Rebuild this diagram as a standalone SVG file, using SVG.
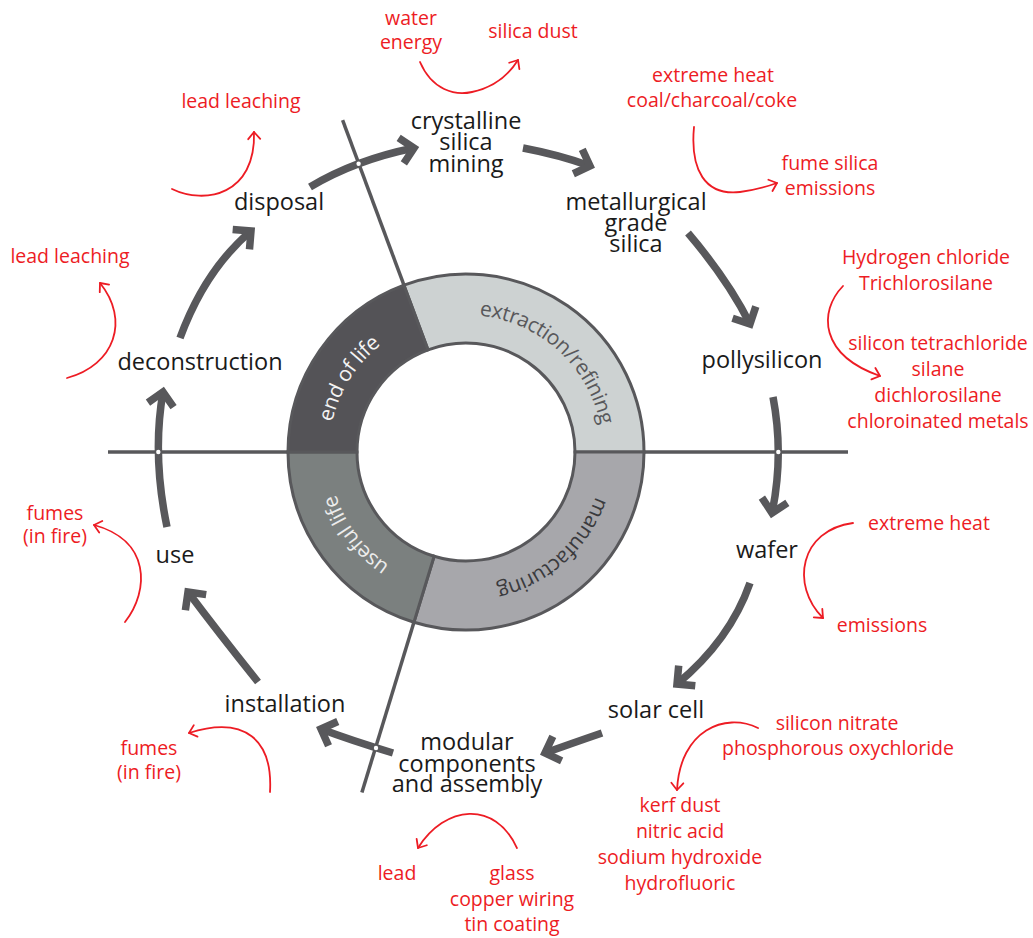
<svg xmlns="http://www.w3.org/2000/svg" xmlns:xlink="http://www.w3.org/1999/xlink" width="1033" height="938" viewBox="0 0 1033 938">
  <style>
    .stage { font-family: "Open Sans", "Liberation Sans", sans-serif; font-size: 23.5px; fill: #1a1a1a; text-anchor: middle; }
    .impact { font-family: "Open Sans", "Liberation Sans", sans-serif; font-size: 19.5px; fill: #ed1c24; text-anchor: middle; }
    .phase { font-family: "Open Sans", "Liberation Sans", sans-serif; font-size: 21px; letter-spacing: -0.4px; text-anchor: middle; }
    .divider { stroke: #58585b; stroke-width: 3.5; fill: none; }
    .ring { stroke: #58585b; stroke-width: 3; stroke-linejoin: miter; }
    .flow { stroke: #58585b; stroke-width: 7.5; fill: none; marker-end: url(#grayHead); }
    .effect { stroke: #ed1c24; stroke-width: 1.8; fill: none; stroke-linecap: round; marker-end: url(#redHead); }
    .gap { fill: #ffffff; }
  </style>
  <defs>
    <marker id="grayHead" markerUnits="userSpaceOnUse" viewBox="-20 -20 40 40" markerWidth="40" markerHeight="40" refX="0" refY="0" orient="auto" overflow="visible">
      <path d="M-13,-13 L0,0 L-13,13" fill="none" stroke="#58585b" stroke-width="7.5" stroke-linejoin="miter"/>
    </marker>
    <marker id="redHead" markerUnits="userSpaceOnUse" viewBox="-12 -12 24 24" markerWidth="24" markerHeight="24" refX="0" refY="0" orient="auto" overflow="visible">
      <path d="M-7,-6 L0,0 L-7,6" fill="none" stroke="#ed1c24" stroke-width="1.8" stroke-linecap="round" stroke-linejoin="round"/>
    </marker>
    <!-- baseline arcs for the phase labels, all running clockwise around (466,452) -->
    <path id="arcExtraction" d="M401.68,331.04 A137,137 0 0 1 593.02,503.32"/>
    <path id="arcManufacturing" d="M593.02,400.68 A137,137 0 0 1 401.68,572.96"/>
    <path id="arcUseful" d="M506.06,583.01 A137,137 0 0 1 351.10,377.39"/>
    <path id="arcEnd" d="M358.04,536.35 A137,137 0 0 1 494.48,318.00"/>
  </defs>

  <rect width="1033" height="938" fill="#ffffff"/>

  <!-- quadrant divider lines -->
  <g id="dividers">
    <line class="divider" x1="108" y1="452" x2="288" y2="452"/>
    <line class="divider" x1="644" y1="452" x2="848" y2="452"/>
    <line class="divider" x1="403.95" y1="285.16" x2="342.6" y2="120.2"/>
    <line class="divider" x1="413.95" y1="622.22" x2="361.9" y2="792.4"/>
  </g>

  <!-- phase ring -->
  <g id="ring">
    <g id="phase-extraction">
      <path class="ring" fill="#cdd2d2" d="M403.95,285.16 A178,178 0 0 1 644,452 L575,452 A109,109 0 0 0 428,349.83 Z"/>
      <text class="phase" fill="#58585b"><textPath xlink:href="#arcExtraction" startOffset="50%">extraction/refining</textPath></text>
    </g>
    <g id="phase-manufacturing">
      <path class="ring" fill="#a7a7ab" d="M644,452 A178,178 0 0 1 413.95,622.22 L434.13,556.24 A109,109 0 0 0 575,452 Z"/>
      <text class="phase" fill="#3a3a3d"><textPath xlink:href="#arcManufacturing" startOffset="50%">manufacturing</textPath></text>
    </g>
    <g id="phase-useful-life">
      <path class="ring" fill="#7b807f" d="M413.95,622.22 A178,178 0 0 1 288,452 L357,452 A109,109 0 0 0 434.13,556.24 Z"/>
      <text class="phase" fill="#ececec"><textPath xlink:href="#arcUseful" startOffset="50%">useful life</textPath></text>
    </g>
    <g id="phase-end-of-life">
      <path class="ring" fill="#545357" d="M288,452 A178,178 0 0 1 403.95,285.16 L428,349.83 A109,109 0 0 0 357,452 Z"/>
      <text class="phase" fill="#f4f4f4"><textPath xlink:href="#arcEnd" startOffset="50%">end of life</textPath></text>
    </g>
  </g>

  <!-- lifecycle flow arrows -->
  <g id="connectors">
    <path class="flow" d="M310,187 Q355,160 414,148"/>
    <path class="flow" d="M523,148 Q560,155 590,166"/>
    <path class="flow" d="M688,233 Q728,280 750,324"/>
    <path class="flow" d="M773,397 Q784,455 772,513"/>
    <path class="flow" d="M750,583 Q730,640 677,684"/>
    <path class="flow" d="M602,733 Q570,744 545,753"/>
    <path class="flow" d="M393,753 Q350,740 321,729"/>
    <path class="flow" d="M258,682 Q218,632 188,592"/>
    <path class="flow" d="M167,527 Q152,455 163,392"/>
    <path class="flow" d="M180,338 Q205,270 251,231"/>
    <!-- small white breaks where arrows cross the divider lines -->
    <circle class="gap" cx="358.6" cy="163.8" r="2.2"/>
    <circle class="gap" cx="778.3" cy="452" r="2.2"/>
    <circle class="gap" cx="158.3" cy="452" r="2.2"/>
    <circle class="gap" cx="376" cy="748" r="2.2"/>

    <!-- environmental side-effect arrows -->
    <path class="effect" d="M420,62 C432,90 455,96 472,92 C492,88 508,76 518,60"/>
    <path class="effect" d="M694,127 C690,170 705,196 740,192 C755,190 766,187 777,183"/>
    <path class="effect" d="M172,189 C205,205 256,195 254,132"/>
    <path class="effect" d="M67,378 C115,365 130,320 100,283"/>
    <path class="effect" d="M843,286 C818,312 820,355 880,376"/>
    <path class="effect" d="M853,523 C800,530 790,585 823,618"/>
    <path class="effect" d="M758,728 C725,712 680,730 677,790"/>
    <path class="effect" d="M517,848 C495,800 445,805 418,848"/>
    <path class="effect" d="M270,792 C273,740 245,715 189,733"/>
    <path class="effect" d="M125,622 C150,590 150,540 94,525"/>
  </g>

  <!-- lifecycle stages -->
  <g id="node-mining"><text class="stage" x="466" y="129">crystalline</text><text class="stage" x="466" y="150">silica</text><text class="stage" x="466" y="172">mining</text></g>
  <g id="node-metallurgical"><text class="stage" x="636" y="210">metallurgical</text><text class="stage" x="636" y="231">grade</text><text class="stage" x="636" y="252">silica</text></g>
  <g id="node-polysilicon"><text class="stage" x="762" y="368">pollysilicon</text></g>
  <g id="node-wafer"><text class="stage" x="767" y="558">wafer</text></g>
  <g id="node-solar-cell"><text class="stage" x="656" y="718">solar cell</text></g>
  <g id="node-modular"><text class="stage" x="467" y="750">modular</text><text class="stage" x="467" y="772">components</text><text class="stage" x="467" y="792">and assembly</text></g>
  <g id="node-installation"><text class="stage" x="285" y="712">installation</text></g>
  <g id="node-use"><text class="stage" x="175" y="563">use</text></g>
  <g id="node-deconstruction"><text class="stage" x="200" y="370">deconstruction</text></g>
  <g id="node-disposal"><text class="stage" x="279" y="210">disposal</text></g>

  <!-- inputs and emissions -->
  <g id="impact-mining-in"><text class="impact" x="411" y="25">water</text><text class="impact" x="411" y="49">energy</text></g>
  <g id="impact-mining-out"><text class="impact" x="533" y="38">silica dust</text></g>
  <g id="impact-smelting-in"><text class="impact" x="713" y="82">extreme heat</text><text class="impact" x="712" y="107">coal/charcoal/coke</text></g>
  <g id="impact-smelting-out"><text class="impact" x="830" y="170">fume silica</text><text class="impact" x="830" y="195">emissions</text></g>
  <g id="impact-disposal"><text class="impact" x="241" y="108">lead leaching</text></g>
  <g id="impact-deconstruction"><text class="impact" x="70" y="263">lead leaching</text></g>
  <g id="impact-poly-in"><text class="impact" x="926" y="264">Hydrogen chloride</text><text class="impact" x="926" y="290">Trichlorosilane</text></g>
  <g id="impact-poly-out"><text class="impact" x="938" y="350">silicon tetrachloride</text><text class="impact" x="938" y="376">silane</text><text class="impact" x="938" y="402">dichlorosilane</text><text class="impact" x="938" y="428">chloroinated metals</text></g>
  <g id="impact-use"><text class="impact" x="55" y="520">fumes</text><text class="impact" x="55" y="543">(in fire)</text></g>
  <g id="impact-wafer-in"><text class="impact" x="929" y="530">extreme heat</text></g>
  <g id="impact-wafer-out"><text class="impact" x="882" y="632">emissions</text></g>
  <g id="impact-cell-in"><text class="impact" x="837" y="730">silicon nitrate</text><text class="impact" x="838" y="755">phosphorous oxychloride</text></g>
  <g id="impact-cell-out"><text class="impact" x="680" y="812">kerf dust</text><text class="impact" x="680" y="838">nitric acid</text><text class="impact" x="680" y="864">sodium hydroxide</text><text class="impact" x="680" y="890">hydrofluoric</text></g>
  <g id="impact-installation"><text class="impact" x="149" y="755">fumes</text><text class="impact" x="149" y="779">(in fire)</text></g>
  <g id="impact-assembly-out"><text class="impact" x="397" y="880">lead</text></g>
  <g id="impact-assembly-in"><text class="impact" x="512" y="880">glass</text><text class="impact" x="512" y="906">copper wiring</text><text class="impact" x="512" y="931">tin coating</text></g>
</svg>
